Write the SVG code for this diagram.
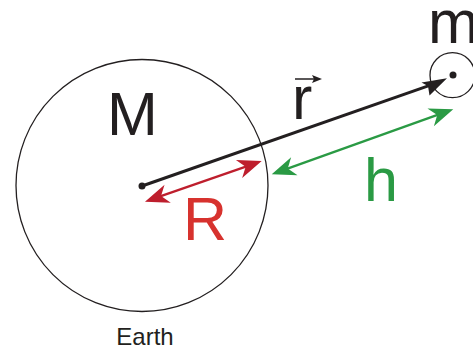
<svg xmlns="http://www.w3.org/2000/svg" width="473" height="351" viewBox="0 0 473 351">
<style>
text{font-family:"Liberation Sans",Arial,sans-serif}
.outline{fill:none;stroke:#231f20;stroke-width:1.3}
.big{font-size:61px}
</style>
<defs>
<marker id="ahR" markerUnits="userSpaceOnUse" orient="auto-start-reverse" overflow="visible" markerWidth="1" markerHeight="1" refX="0" refY="0">
<path d="M16,0 L-8,-9.5 L-1,0 L-8,9.5 Z" fill="#be1e2d"/>
</marker>
<marker id="ahG" markerUnits="userSpaceOnUse" orient="auto-start-reverse" overflow="visible" markerWidth="1" markerHeight="1" refX="0" refY="0">
<path d="M16,0 L-8,-9.5 L-1,0 L-8,9.5 Z" fill="#2a9a44"/>
</marker>
</defs>
<rect width="473" height="351" fill="#fff"/>
<g id="earth">
<circle class="outline" cx="142" cy="185.5" r="126"/>
<circle cx="142" cy="186" r="3.5" fill="#231f20"/>
<text class="big" x="132.5" y="134.5" text-anchor="middle" fill="#231f20">M</text>
<text x="145" y="345" font-size="24" text-anchor="middle" fill="#231f20">Earth</text>
</g>
<g id="satellite">
<circle class="outline" cx="452.5" cy="75.2" r="22.5"/>
<circle cx="453" cy="75" r="3.5" fill="#231f20"/>
<text class="big" x="428" y="42.5" fill="#231f20">m</text>
</g>
<g id="connectors">
<line x1="142" y1="186" x2="429" y2="85.6" stroke="#231f20" stroke-width="3"/>
<path d="M447,78.3 L421.5,82.5 L428,86 L429.5,95.5 Z" fill="#231f20"/>
<line x1="160.1" y1="196.4" x2="246.6" y2="166.3" stroke="#be1e2d" stroke-width="2.3" marker-start="url(#ahR)" marker-end="url(#ahR)"/>
<line x1="286.8" y1="168.9" x2="438.2" y2="114.7" stroke="#2a9a44" stroke-width="2.3" marker-start="url(#ahG)" marker-end="url(#ahG)"/>
</g>
<g id="labels">
<text class="big" x="292" y="118.5" fill="#231f20">r</text>
<line x1="295" y1="79" x2="314" y2="79" stroke="#231f20" stroke-width="1.5"/>
<path d="M322,79 L312,75 L314,79 L312,83 Z" fill="#231f20"/>
<text class="big" x="364" y="200.5" fill="#2a9a44">h</text>
<text class="big" x="183" y="239.5" fill="#d7322e">R</text>
</g>
</svg>
